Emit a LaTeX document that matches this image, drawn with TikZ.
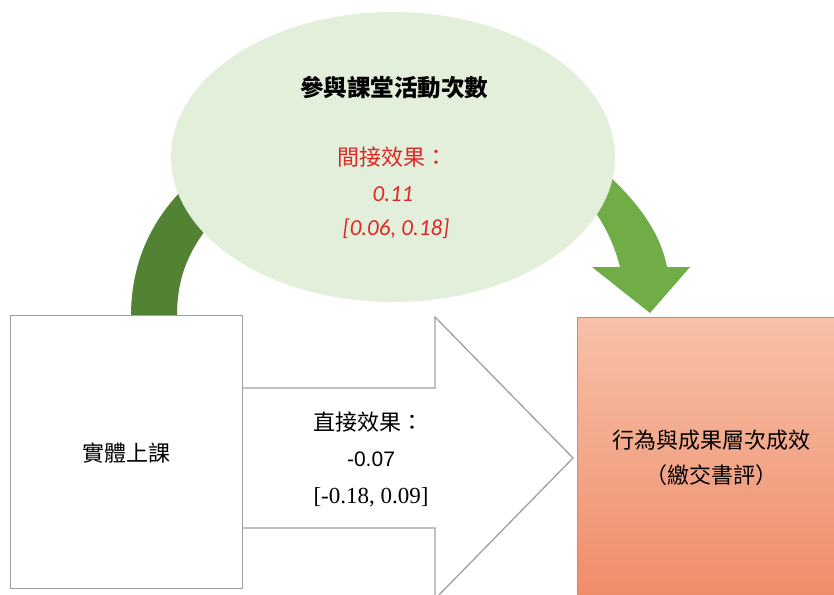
\documentclass[tikz,border=0pt]{standalone}
\usepackage{fontspec}
\setmainfont{Liberation Serif}
\newfontfamily\cjkfont{Noto Sans CJK TC}
\newfontfamily\calfont{Carlito}
\newfontfamily\arialfont{Liberation Sans}
\usetikzlibrary{shapes.geometric}
\definecolor{ellfill}{RGB}{226,239,218}
\definecolor{dkgreen}{RGB}{84,130,53}
\definecolor{ltgreen}{RGB}{112,173,71}
\definecolor{boxgray}{RGB}{160,160,160}
\definecolor{outtop}{RGB}{247,193,168}
\definecolor{outbot}{RGB}{239,138,104}
\definecolor{outborder}{RGB}{230,130,90}
\definecolor{redtxt}{RGB}{222,40,40}
\tikzset{
  cjk/.style={font=\cjkfont\fontsize{22}{26}\selectfont, inner sep=0pt},
  redcjk/.style={cjk, text=redtxt},
  rednum/.style={font=\calfont\itshape\fontsize{23}{26}\selectfont, text=redtxt, inner sep=0pt},
  grayline/.style={draw=boxgray, line width=1.3pt}
}
\begin{document}
\begin{tikzpicture}[x=1pt,y=-1pt]
\useasboundingbox (0,0) rectangle (834,594);
\clip (0,0) rectangle (834,594);
% big direct-effect arrow
\draw[grayline, fill=white, line join=miter]
  (230,388) -- (435,388) -- (435,317) -- (573,458) -- (435,599) -- (435,528) -- (230,528) -- cycle;
% green curved arrows (ends hidden under the ellipse)
\fill[dkgreen] (131,316) .. controls (131,262) and (152,220) .. (184,188)
  -- (215,218) .. controls (190,248) and (177,275) .. (177,316) -- cycle;
\fill[ltgreen] (592,267) -- (620,267) .. controls (612,235) and (595,205) .. (565,178)
  -- (580,150) .. controls (612,178) and (657,215) .. (667,267)
  -- (690,267) -- (650,313) -- cycle;
% mediator ellipse
\node[ellipse, fill=ellfill, minimum width=444pt, minimum height=290pt, inner sep=0pt] (med) at (393,157) {};
\node[cjk, font=\cjkfont\bfseries\fontsize{23.5}{26}\selectfont] (medtitle) at (394,88) {參與課堂活動次數};
\node[redcjk] (ind1) at (392,157) {間接效果：};
\node[rednum] (ind2) at (393,194) {0.11};
\node[rednum] (ind3) at (396,229) {[0.06, 0.18]};
% source box
\node[grayline, fill=white, minimum width=232pt, minimum height=273pt, inner sep=0pt, anchor=north west] (src) at (10,315) {};
\node[cjk] (srctxt) at (126,453) {實體上課};
% direct effect labels
\node[cjk] (dir1) at (368,422) {直接效果：};
\node[font=\arialfont\fontsize{21}{24}\selectfont, inner sep=0pt] (dir2) at (371,459) {-0.07};
\node[font=\fontsize{23}{26}\selectfont, inner sep=0pt] (dir3) at (371,497) {[-0.18, 0.09]};
% outcome box
\shade[top color=outtop, bottom color=outbot, draw=outborder, line width=1pt] (577,317) rectangle (850,610);
\node[cjk] (out1) at (711,440) {行為與成果層次成效};
\node[cjk] (out2) at (711,475) {（繳交書評）};
\end{tikzpicture}
\end{document}
